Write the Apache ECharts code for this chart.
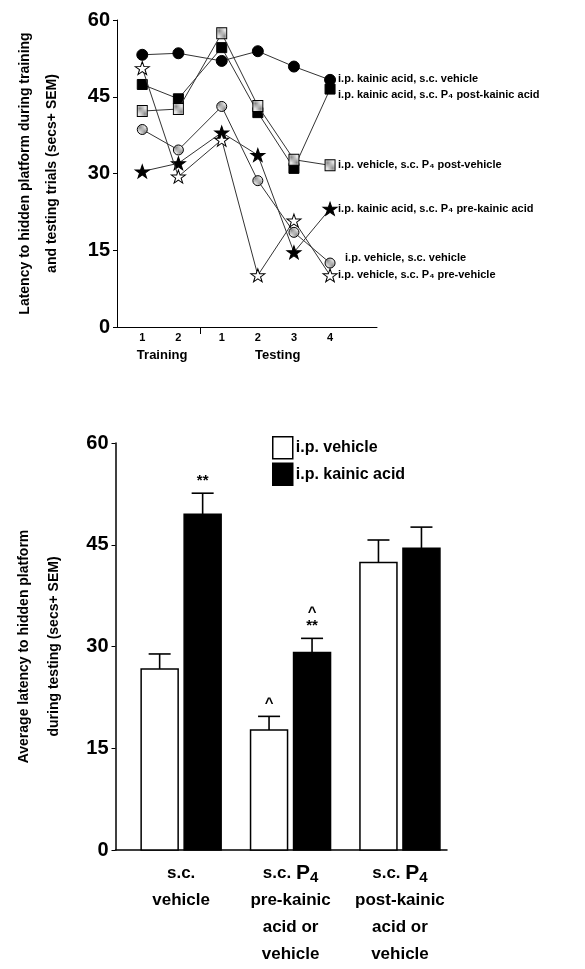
<!DOCTYPE html>
<html><head><meta charset="utf-8">
<script src="https://cdn.jsdelivr.net/npm/echarts@6/dist/echarts.min.js"></script>
<style>html,body{margin:0;padding:0;background:#fff}#c{width:585px;height:969px}</style>
</head><body><div id="c"></div>
<script>
// ---------- top chart data ----------
const trialPos = [1, 2, 3.2, 4.2, 5.2, 6.2];
const trialLabels = ['1', '2', '1', '2', '3', '4'];
const phasePos = [1.55, 4.75];
const phaseLabels = ['Training', 'Testing'];
const dividerPos = [2.6];
const seriesNames = [
  'i.p. kainic acid, s.c. vehicle',
  'i.p. kainic acid, s.c. P₄ post-kainic acid',
  'i.p. vehicle, s.c. P₄ post-vehicle',
  'i.p. kainic acid, s.c. P₄ pre-kainic acid',
  'i.p. vehicle, s.c. vehicle',
  'i.p. vehicle, s.c. P₄ pre-vehicle'
];
const kaVeh  = [53.2, 53.5, 52.0, 53.9, 50.9, 48.3];
const kaPost = [47.4, 44.6, 54.6, 41.9, 31.0, 46.5];
const vehPost = [42.2, 42.6, 57.4, 43.2, 32.7, 31.6];
const kaPre  = [30.4, 32.0, 38.0, 33.6, 14.6, 23.1];
const vehVeh = [38.6, 34.6, 43.1, 28.6, 18.5, 12.5];
const vehPre = [50.6, 29.4, 36.6, 10.1, 20.8, 10.1];
const yTicks = [0, 15, 30, 45, 60];

// ---------- bottom chart data ----------
const groupPos = [0, 1, 2];
const groupLabels = ['s.c.\nvehicle', 's.c. P4\npre-kainic\nacid or\nvehicle', 's.c. P4\npost-kainic\nacid or\nvehicle'];
const barNames = ['i.p. vehicle', 'i.p. kainic acid'];
const vehMean = [26.7, 17.7, 42.4];
const vehSem  = [2.2, 2.0, 3.3];
const kaMean  = [49.5, 29.1, 44.5];
const kaSem   = [3.1, 2.1, 3.1];
const vehSig = ['', '^', ''];
const kaSig  = ['**', '^\n**', ''];

const FONT = 'Liberation Sans, Arial, sans-serif';

function dotPattern() {
  const c = document.createElement('canvas');
  c.width = 3; c.height = 3;
  const g = c.getContext('2d');
  g.fillStyle = '#e4e4e4'; g.fillRect(0, 0, 3, 3);
  g.fillStyle = '#888'; g.fillRect(0, 0, 1, 1); g.fillRect(2, 2, 1, 1);
  return { image: c, repeat: 'repeat' };
}
const pat = dotPattern();
const STAR = 'path://M50,0 L61.8,35.1 L98.1,35.1 L68.8,56.8 L79.4,91.0 L50,70 L20.6,91.0 L31.2,56.8 L1.9,35.1 L38.2,35.1 Z';

function idxOf(arr, v) {
  for (let i = 0; i < arr.length; i++) if (Math.abs(arr[i] - v) < 1e-6) return i;
  return -1;
}

const lineSpecs = [
  { d: kaVeh,  sym: 'circle', size: 11, fill: '#000', off: [0, -1] },
  { d: kaPost, sym: 'rect',   size: 10, fill: '#000', off: [0, 6] },
  { d: vehPost, sym: 'rect',  size: [10, 11], fill: pat, off: [0, 0] },
  { d: kaPre,  sym: STAR,     size: [14, 13], fill: '#000', off: [0, 0] },
  { d: vehVeh, sym: 'circle', size: 10, fill: pat, off: [7, -5] },
  { d: vehPre, sym: STAR,     size: [14, 13], fill: '#fff', off: [0, 0] }
];

const lineSeries = lineSpecs.map((s, k) => ({
  type: 'line', name: seriesNames[k], xAxisIndex: 0, yAxisIndex: 0,
  data: s.d.map((v, i) => [trialPos[i], v]),
  symbol: s.sym, symbolSize: s.size, showAllSymbol: true,
  lineStyle: { color: '#333', width: 1 },
  itemStyle: { color: s.fill, borderColor: '#000', borderWidth: 1 },
  endLabel: {
    show: true, formatter: seriesNames[k], distance: 8, offset: s.off,
    fontFamily: FONT, fontSize: 11, fontWeight: 'bold', color: '#000'
  },
  z: 2 + k
}));

const chart = echarts.init(document.getElementById('c'), null, { renderer: 'canvas' });

const barOffset = 21.5, barW = 37;
function barSeries(name, means, sems, sigs, side, fill) {
  return {
    type: 'custom', name: name, xAxisIndex: 2, yAxisIndex: 1,
    data: groupPos.map((x, i) => [x, means[i], sems[i]]),
    encode: { x: 0, y: 1 },
    itemStyle: { color: fill, borderColor: '#000', borderWidth: 1.5 },
    z: 5,
    renderItem(params, api) {
      const i = params.dataIndex;
      const x = api.value(0), m = api.value(1), s = api.value(2);
      const z0 = api.coord([x, 0]);
      const b = api.coord([x, m]);
      const t = api.coord([x, m + s]);
      const cx = b[0] + side * barOffset;
      const children = [
        { type: 'line', shape: { x1: cx, y1: b[1], x2: cx, y2: t[1] }, style: { stroke: '#000', lineWidth: 1.6 } },
        { type: 'line', shape: { x1: cx - 11, y1: t[1], x2: cx + 11, y2: t[1] }, style: { stroke: '#000', lineWidth: 1.6 } },
        { type: 'rect', shape: { x: cx - barW / 2, y: b[1], width: barW, height: z0[1] - b[1] },
          style: { fill: fill, stroke: '#000', lineWidth: 1.5 } }
      ];
      if (sigs[i]) {
        children.push({
          type: 'text',
          style: { x: cx, y: t[1] - 6, text: sigs[i], align: 'center', verticalAlign: 'bottom',
                   font: 'bold 15px ' + FONT, fill: '#000', lineHeight: 13 }
        });
      }
      return { type: 'group', children };
    }
  };
}

const option = {
  animation: false,
  backgroundColor: '#fff',
  textStyle: { fontFamily: FONT },
  grid: [
    { left: 117, top: 20, width: 260, height: 307, outerBoundsMode: 'none', containLabel: false },
    { left: 115.5, top: 443, width: 331.5, height: 407, outerBoundsMode: 'none', containLabel: false }
  ],
  legend: {
    data: [
      { name: barNames[0], itemStyle: { color: '#fff', borderColor: '#000', borderWidth: 1.5 } },
      { name: barNames[1], itemStyle: { color: '#000', borderColor: '#000', borderWidth: 1.5 } }
    ],
    orient: 'vertical', left: 267, top: 431,
    itemWidth: 20, itemHeight: 22, itemGap: 3, icon: 'rect',
    textStyle: { fontFamily: FONT, fontSize: 16, fontWeight: 'bold', color: '#000', padding: [0, 0, 0, -2] }
  },
  xAxis: [
    {
      type: 'value', gridIndex: 0, min: 0.3, max: 7.5,
      axisLine: { onZero: false, lineStyle: { color: '#000', width: 1 } },
      splitLine: { show: false },
      axisTick: { show: true, customValues: dividerPos, length: 7, lineStyle: { color: '#000' } },
      axisLabel: {
        customValues: trialPos, margin: 5,
        formatter: v => { const i = idxOf(trialPos, v); return i < 0 ? '' : trialLabels[i]; },
        fontFamily: FONT, fontSize: 11, fontWeight: 'bold', color: '#000'
      }
    },
    {
      type: 'value', gridIndex: 0, min: 0.3, max: 7.5, position: 'bottom',
      axisLine: { show: false }, axisTick: { show: false }, splitLine: { show: false },
      axisLabel: {
        customValues: phasePos, margin: 22,
        formatter: v => { const i = idxOf(phasePos, v); return i < 0 ? '' : phaseLabels[i]; },
        fontFamily: FONT, fontSize: 13, fontWeight: 'bold', color: '#000'
      }
    },
    {
      type: 'value', gridIndex: 1, min: -0.6, max: 2.43,
      axisLine: { onZero: false, lineStyle: { color: '#000', width: 1.5 } },
      axisTick: { show: false }, splitLine: { show: false },
      axisLabel: {
        customValues: groupPos, margin: 10,
        formatter: v => {
          const i = idxOf(groupPos, v);
          return i < 0 ? '' : groupLabels[i].replace('P4', '{p|P}{s|4}');
        },
        fontFamily: FONT, fontSize: 17, fontWeight: 'bold', color: '#000', lineHeight: 27,
        rich: {
          p: { fontFamily: FONT, fontSize: 21, fontWeight: 'bold', color: '#000', lineHeight: 27 },
          s: { fontFamily: FONT, fontSize: 15, fontWeight: 'bold', color: '#000', lineHeight: 27, padding: [8, 0, 0, 0] }
        }
      }
    }
  ],
  yAxis: [
    {
      type: 'value', gridIndex: 0, min: 0, max: 60, interval: 15,
      axisLine: { show: true, onZero: false, lineStyle: { color: '#000', width: 1 } },
      axisTick: { show: true, length: 4, lineStyle: { color: '#000' } },
      splitLine: { show: false },
      axisLabel: { margin: 7, fontFamily: FONT, fontSize: 20, fontWeight: 'bold', color: '#000' },
      name: 'Latency to hidden platform during training\nand testing trials (secs+ SEM)',
      nameLocation: 'middle', nameGap: 51, nameRotate: 90,
      nameTextStyle: { fontFamily: FONT, fontSize: 14, fontWeight: 'bold', color: '#000', lineHeight: 27 }
    },
    {
      type: 'value', gridIndex: 1, min: 0, max: 60, interval: 15,
      axisLine: { show: true, onZero: false, lineStyle: { color: '#000', width: 1.5 } },
      axisTick: { show: true, length: 4, lineStyle: { color: '#000' } },
      splitLine: { show: false },
      axisLabel: { margin: 7, fontFamily: FONT, fontSize: 20, fontWeight: 'bold', color: '#000' },
      name: 'Average latency to hidden platform\nduring testing (secs+ SEM)',
      nameLocation: 'middle', nameGap: 46, nameRotate: 90,
      nameTextStyle: { fontFamily: FONT, fontSize: 14, fontWeight: 'bold', color: '#000', lineHeight: 30 }
    }
  ],
  series: lineSeries.concat([
    barSeries(barNames[0], vehMean, vehSem, vehSig, -1, '#fff'),
    barSeries(barNames[1], kaMean, kaSem, kaSig, 1, '#000')
  ])
};
chart.setOption(option);
</script>
</body></html>
